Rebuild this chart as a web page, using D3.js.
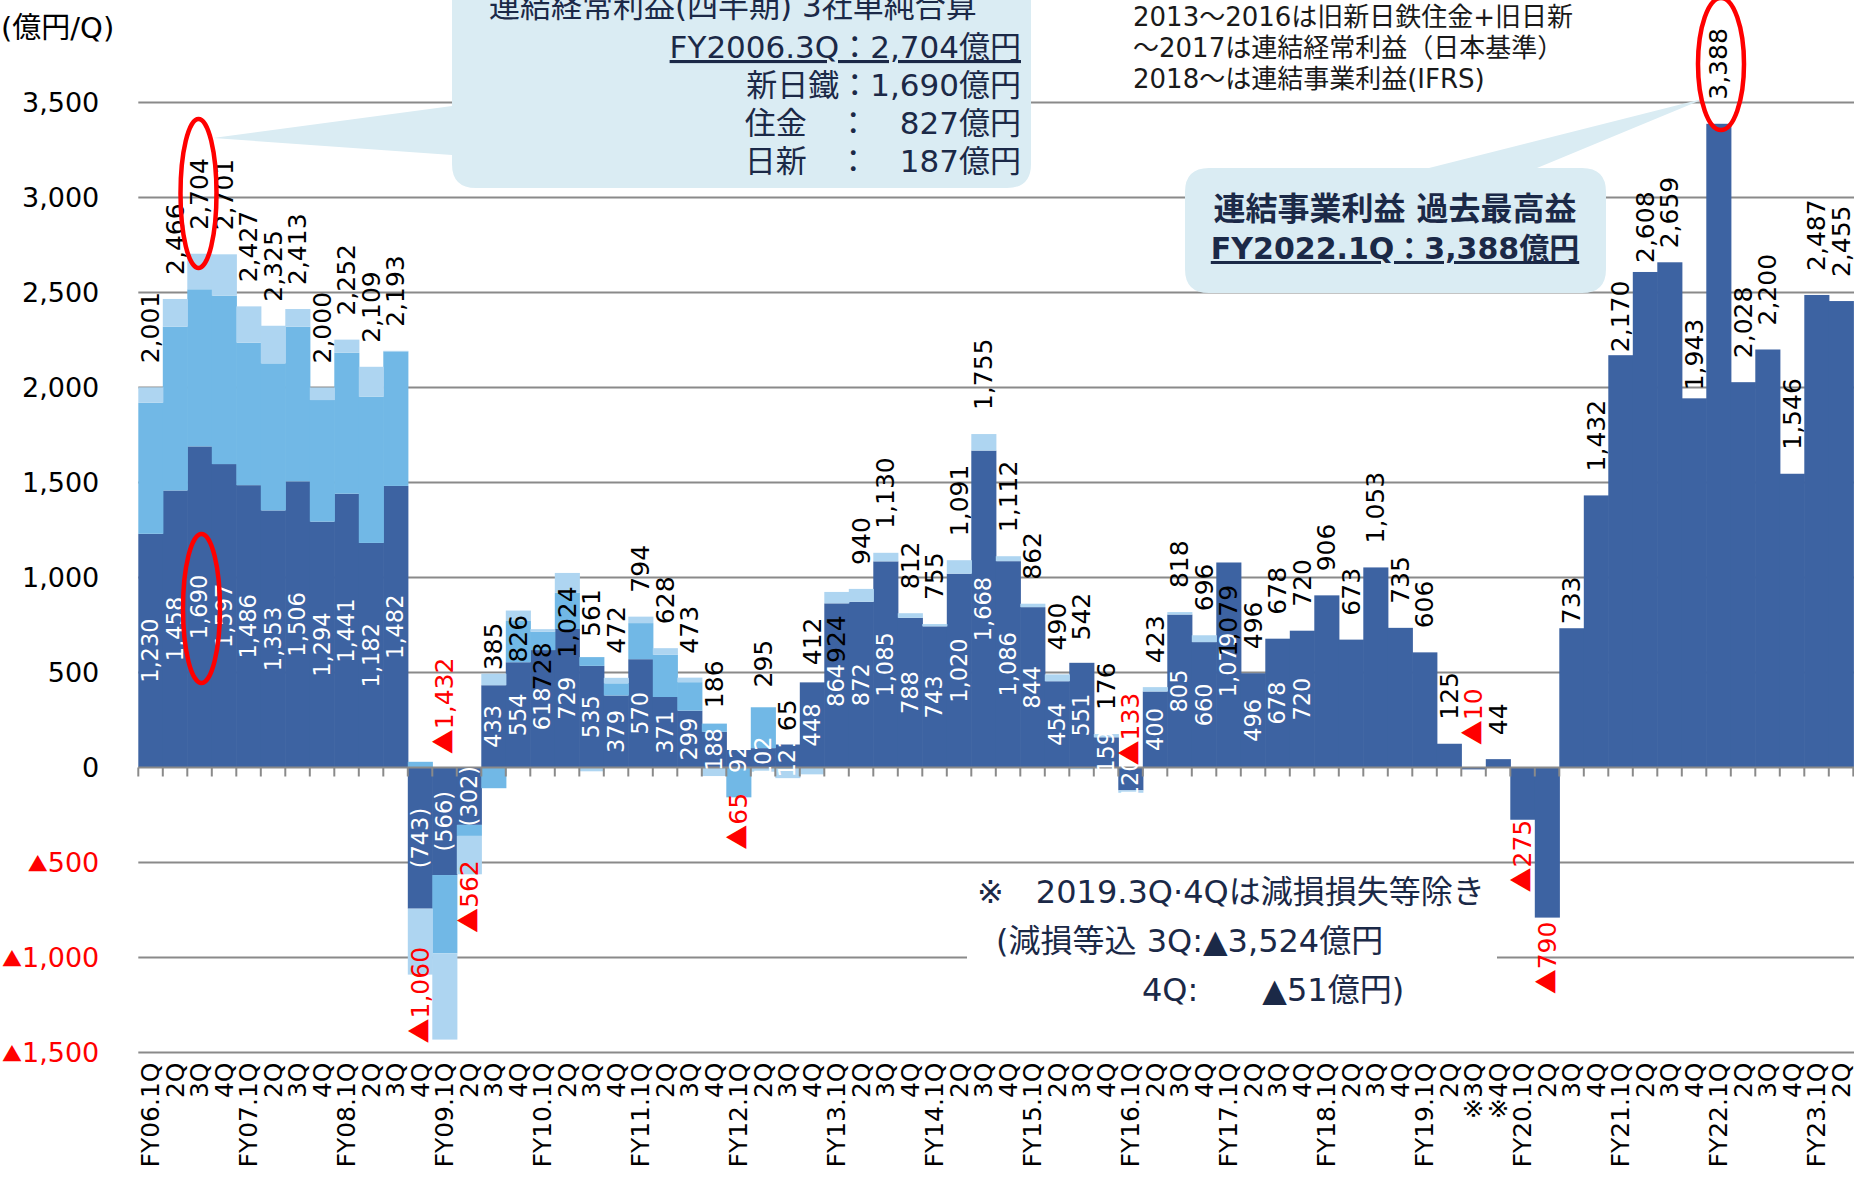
<!DOCTYPE html>
<html>
<head>
<meta charset="utf-8">
<script src="https://cdn.jsdelivr.net/npm/d3@7"></script>
<style>
body { margin: 0; background: #fff; }
svg { display: block; }
text { font-family: "DejaVu Sans", "Noto Sans CJK JP", sans-serif; }
</style>
</head>
<body>
<div id="chart"></div>
<script>
// categories
var quarters = [
	"FY06.1Q", "2Q", "3Q", "4Q", "FY07.1Q", "2Q", "3Q", "4Q",
	"FY08.1Q", "2Q", "3Q", "4Q", "FY09.1Q", "2Q", "3Q", "4Q",
	"FY10.1Q", "2Q", "3Q", "4Q", "FY11.1Q", "2Q", "3Q", "4Q",
	"FY12.1Q", "2Q", "3Q", "4Q", "FY13.1Q", "2Q", "3Q", "4Q",
	"FY14.1Q", "2Q", "3Q", "4Q", "FY15.1Q", "2Q", "3Q", "4Q",
	"FY16.1Q", "2Q", "3Q", "4Q", "FY17.1Q", "2Q", "3Q", "4Q",
	"FY18.1Q", "2Q", "3Q", "4Q", "FY19.1Q", "2Q", "※3Q", "※4Q",
	"FY20.1Q", "2Q", "3Q", "4Q", "FY21.1Q", "2Q", "3Q", "4Q",
	"FY22.1Q", "2Q", "3Q", "4Q", "FY23.1Q", "2Q"
]

// quarterly totals (億円)
var total = [
	2001, 2466, 2704, 2701, 2427, 2325, 2413, 2000,
	2252, 2109, 2193, -1060, -1432, -562, 385, 826,
	728, 1024, 561, 472, 794, 628, 473, 186,
	-65, 295, 65, 412, 924, 940, 1130, 812,
	755, 1091, 1755, 1112, 862, 490, 542, 176,
	-133, 423, 818, 696, 1079, 496, 678, 720,
	906, 673, 1053, 735, 606, 125, -10, 44,
	-275, -790, 733, 1432, 2170, 2608, 2659, 1943,
	3388, 2028, 2200, 1546, 2487, 2455
]

// 新日鐵 / 新日鉄住金 / 日本製鉄
var nsc = [
	1230, 1458, 1690, 1597, 1486, 1353, 1506, 1294,
	1441, 1182, 1482, -743, -566, -302, 433, 554,
	618, 729, 535, 379, 570, 371, 299, 188,
	92, 102, 121, 448, 864, 872, 1085, 788,
	743, 1020, 1668, 1086, 844, 454, 551, 159,
	-120, 400, 805, 660, 1079, 496, 678, 720,
	906, 673, 1053, 735, 606, 125, -10, 44,
	-275, -790, 733, 1432, 2170, 2608, 2659, 1943,
	3388, 2028, 2200, 1546, 2487, 2455
]

// 住金
var smi = [
	690, 862, 827, 886, 750, 774, 814, 640,
	742, 769, 708, 30, -412, -58, -109, 217,
	96, 191, 46, 64, 190, 222, 150, 43,
	-157, 215, 0, 0, 0, 0, 0, 0,
	0, 0, 0, 0, 0, 0, 0, 0,
	0, 0, 0, 0, 0, 0, 0, 0,
	0, 0, 0, 0, 0, 0, 0, 0,
	0, 0, 0, 0, 0, 0, 0, 0,
	0, 0, 0, 0, 0, 0
]

// 日新
var nisshin = [
	81, 146, 187, 218, 191, 198, 93, 66,
	69, 158, 3, -347, -454, -202, 61, 55,
	14, 104, -20, 29, 34, 35, 24, -45,
	0, -22, -56, -36, 60, 68, 45, 24,
	12, 71, 87, 26, 18, 36, -9, 17,
	-13, 23, 13, 36, 0, 0, 0, 0,
	0, 0, 0, 0, 0, 0, 0, 0,
	0, 0, 0, 0, 0, 0, 0, 0,
	0, 0, 0, 0, 0, 0
]

var yTicks = [-1500, -1000, -500, 0, 500, 1000, 1500, 2000, 2500, 3000, 3500]

// hand-placed labels in the original (pixel shifts)
var totalShift = { 11: -26, 12: -386, 13: -18, 15: 76, 16: 85, 17: 109, 24: 9, 28: 95,
	40: -104, 44: 118, 54: -85, 56: -4, 58: 20, 60: 21, 61: 15, 62: 10, 63: 16 }
var lastInside = 47

var width = 1854,
	height = 1180

var colors = { nsc: '#3d63a2', smi: '#71b8e6', nisshin: '#aed5f1' }
var navy = '#1b2947'

var svg = d3.select('#chart').append('svg')
	.attr('width', width)
	.attr('height', height)

var x = d3.scaleBand()
	.domain(d3.range(quarters.length))
	.range([138.3, 1853.3])
	.padding(0)

var y = d3.scaleLinear()
	.domain([-1500, 3500])
	.range([1052.5, 102.5])

var fmt = d3.format(',')

var rows = quarters.map(function (q, i) {
	return { i: i, nsc: nsc[i], smi: smi[i], nisshin: nisshin[i], total: total[i] }
})

// gridlines
svg.append('g').selectAll('line')
	.data(yTicks.filter(function (d) { return d !== 0 }))
	.enter().append('line')
	.attr('x1', x.range()[0]).attr('x2', width)
	.attr('y1', function (d) { return y(d) }).attr('y2', function (d) { return y(d) })
	.attr('stroke', '#8a8a8a').attr('stroke-width', 2)

// callout boxes (drawn over gridlines)
svg.append('path')
	.attr('d', 'M476,-40H1007Q1031,-40 1031,-16V164Q1031,188 1007,188H476Q452,188 452,164V155L213,138L452,106V-16Q452,-40 476,-40Z')
	.attr('fill', '#daecf3')
svg.append('path')
	.attr('d', 'M1209,168H1429L1706,98L1537,168H1582Q1606,168 1606,192V269Q1606,293 1582,293H1209Q1185,293 1185,269V192Q1185,168 1209,168Z')
	.attr('fill', '#daecf3')
svg.append('rect')
	.attr('x', 967).attr('y', 868).attr('width', 530).attr('height', 150)
	.attr('fill', '#fff')

// stacked bars
var series = d3.stack()
	.keys(['nsc', 'smi', 'nisshin'])
	.offset(d3.stackOffsetDiverging)(rows)

svg.append('g').selectAll('g')
	.data(series)
	.enter().append('g')
	.attr('fill', function (s) { return colors[s.key] })
	.selectAll('rect')
	.data(function (s) { return s.filter(function (d) { return d[1] !== d[0] }) })
	.enter().append('rect')
	.attr('x', function (d) { return x(d.data.i) })
	.attr('width', x.bandwidth() + 0.6)
	.attr('y', function (d) { return y(Math.max(d[0], d[1])) })
	.attr('height', function (d) { return Math.abs(y(d[0]) - y(d[1])) })

// zero axis with ticks
var zero = svg.append('g').attr('stroke', '#8a8a8a').attr('stroke-width', 2)
zero.append('line')
	.attr('x1', x.range()[0]).attr('x2', width)
	.attr('y1', y(0)).attr('y2', y(0))
zero.selectAll('.tk')
	.data(d3.range(quarters.length + 1))
	.enter().append('line')
	.attr('x1', function (d) { return x.range()[0] + d * x.step() })
	.attr('x2', function (d) { return x.range()[0] + d * x.step() })
	.attr('y1', y(0)).attr('y2', y(0) + 9)

// y axis labels
var yAxis = svg.append('g')
	.attr('transform', 'translate(' + x.range()[0] + ',0)')
	.call(d3.axisLeft(y).tickValues(yTicks).tickSize(0).tickPadding(39)
		.tickFormat(function (d) { return d < 0 ? String(-d) : fmt(d) }))
yAxis.select('.domain').remove()
yAxis.selectAll('text')
	.attr('font-size', 27)
	.style('font-family', '"DejaVu Sans", "Noto Sans CJK JP", sans-serif')
	.attr('fill', function (d) { return d < 0 ? '#ff0000' : '#000' })
	.each(function (d) {
		if (d < 0) {
			var t = d3.select(this)
			t.text(null)
			t.append('tspan').style('font-family', '"Noto Sans CJK JP"').attr('font-size', 20).text('▲')
			t.append('tspan').text(fmt(-d))
		}
	})

// x axis labels
var xAxis = svg.append('g')
	.attr('transform', 'translate(0,' + y(-1500) + ')')
	.call(d3.axisBottom(x).tickSize(0).tickFormat(function (i) { return quarters[i] }))
xAxis.select('.domain').remove()
xAxis.selectAll('text')
	.attr('font-size', 25)
	.style('font-family', '"DejaVu Sans", "Noto Sans CJK JP", sans-serif')
	.attr('fill', '#000')
	.attr('transform', 'rotate(-90)')
	.attr('x', -10).attr('y', 0).attr('dy', '0.35em')
	.style('text-anchor', 'end')

// inside labels (white)
svg.append('g').selectAll('text')
	.data(rows.filter(function (d) { return d.i <= lastInside }))
	.enter().append('text')
	.attr('transform', function (d) {
		return 'translate(' + (x(d.i) + x.bandwidth() / 2) + ',' + y(d.nsc / 2) + ') rotate(-90)'
	})
	.attr('dy', '0.35em')
	.attr('text-anchor', 'middle')
	.attr('font-size', 22.5)
	.attr('fill', '#fff')
	.text(function (d) { return d.nsc < 0 ? '(' + fmt(-d.nsc) + ')' : fmt(d.nsc) })

// total labels
var tot = svg.append('g').selectAll('text')
	.data(rows)
	.enter().append('text')
	.attr('transform', function (d) {
		var s = totalShift[d.i] || 0
		var yy = d.total >= 0 ? y(d.total) - 24 + s : y(d.total) + 4 + s
		return 'translate(' + (x(d.i) + x.bandwidth() / 2) + ',' + yy + ') rotate(-90)'
	})
	.attr('dy', '0.35em')
	.attr('text-anchor', function (d) { return d.total >= 0 ? 'start' : 'end' })
	.attr('font-size', 25)
	.attr('fill', function (d) { return d.total >= 0 ? '#000' : '#ff0000' })
tot.filter(function (d) { return d.total >= 0 }).text(function (d) { return fmt(d.total) })
tot.filter(function (d) { return d.total < 0 }).each(function (d) {
	var t = d3.select(this)
	t.append('tspan').style('font-family', '"Noto Sans CJK JP"').text('▲')
	t.append('tspan').text(fmt(-d.total))
})

// unit
svg.append('text')
	.attr('x', 1).attr('y', 38)
	.attr('font-size', 29)
	.attr('fill', '#000')
	.text('(億円/Q)')

// callout 1 text
var c1 = svg.append('g').attr('fill', navy).attr('font-size', 31)
c1.append('text').attr('x', 489).attr('y', 17).text('連結経常利益(四半期) 3社単純合算')
var c1lines = ['FY2006.3Q：2,704億円', '新日鐵：1,690億円', '住金　：　827億円', '日新　：　187億円']
c1.selectAll('.l')
	.data(c1lines)
	.enter().append('text')
	.attr('x', 1021)
	.attr('y', function (d, i) { return 58 + i * 38 })
	.attr('text-anchor', 'end')
	.style('white-space', 'pre')
	.attr('text-decoration', function (d, i) { return i === 0 ? 'underline' : null })
	.text(function (d) { return d })

// callout 2 text
var c2 = svg.append('g').attr('fill', navy).attr('font-weight', 'bold')
	.attr('text-anchor', 'middle')
c2.append('text').attr('x', 1395).attr('y', 220).attr('font-size', 32).text('連結事業利益 過去最高益')
c2.append('text').attr('x', 1395).attr('y', 259).attr('font-size', 30).attr('text-decoration', 'underline')
	.text('FY2022.1Q：3,388億円')

// top-right note
var noteTop = ['2013～2016は旧新日鉄住金+旧日新', '～2017は連結経常利益（日本基準）', '2018～は連結事業利益(IFRS)']
svg.append('g').selectAll('text')
	.data(noteTop)
	.enter().append('text')
	.attr('x', 1133)
	.attr('y', function (d, i) { return 26 + i * 31 })
	.attr('font-size', 26)
	.attr('fill', '#1a1a1a')
	.text(function (d) { return d })

// impairment note
var noteLow = [['※　2019.3Q·4Qは減損損失等除き', 977], ['(減損等込 3Q:▲3,524億円', 996], ['4Q:　　▲51億円)', 1142]]
svg.append('g').selectAll('text')
	.data(noteLow)
	.enter().append('text')
	.attr('x', function (d) { return d[1] })
	.attr('y', function (d, i) { return 903 + i * 49 })
	.attr('font-size', 32)
	.attr('fill', navy)
	.style('white-space', 'pre')
	.text(function (d) { return d[0] })

// red ellipses
var rings = [[198.5, 193.5, 18, 74.5], [201.5, 608.5, 18.5, 74.5], [1721, 64, 23, 66]]
svg.append('g').selectAll('ellipse')
	.data(rings)
	.enter().append('ellipse')
	.attr('cx', function (d) { return d[0] }).attr('cy', function (d) { return d[1] })
	.attr('rx', function (d) { return d[2] }).attr('ry', function (d) { return d[3] })
	.attr('fill', 'none').attr('stroke', '#ff0000').attr('stroke-width', 4.5)
</script>
</body>
</html>
